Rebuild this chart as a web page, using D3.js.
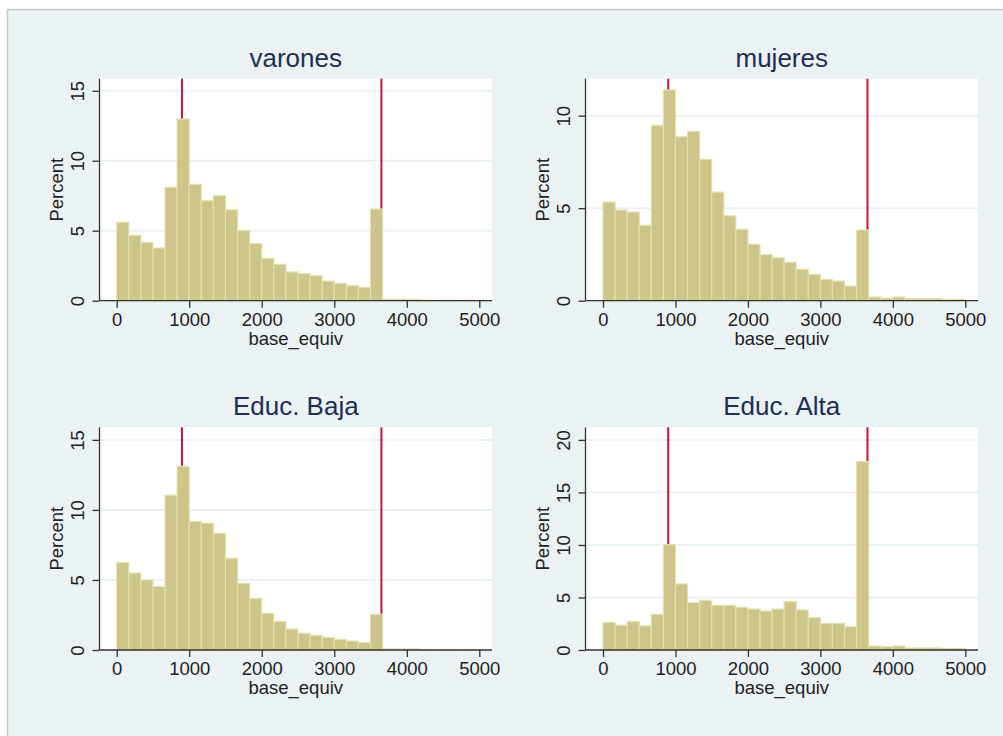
<!DOCTYPE html>
<html>
<head>
  <meta charset="utf-8">
  <title>base_equiv histograms</title>
  <script src="https://cdn.jsdelivr.net/npm/d3@7"></script>
  <style>
    body { margin: 0; background: #fff; }
    svg text { font-family: 'Liberation Sans', Arial, sans-serif; }
  </style>
</head>
<body>
<svg id="chart" width="1003" height="736"></svg>

<script>
  // percent per bin, 30 bins of equal width covering 0..5000
  var varones = [5.6, 4.67, 4.17, 3.76, 8.1, 12.98, 8.31, 7.14, 7.5, 6.5,
    5.0, 4.07, 3.02, 2.6, 2.05, 1.93, 1.79, 1.4, 1.24, 1.07,
    0.95, 6.55, 0.1, 0.1, 0.08, 0.03, 0.02, 0.02, 0.02, 0.02];
  var mujeres = [5.33, 4.9, 4.79, 4.07, 9.48, 11.39, 8.86, 9.15, 7.64, 5.87,
    4.59, 3.86, 3.05, 2.49, 2.32, 2.07, 1.69, 1.42, 1.15, 1.06,
    0.79, 3.82, 0.2, 0.13, 0.2, 0.1, 0.1, 0.1, 0.07, 0.07];
  var educBaja = [6.24, 5.5, 5.0, 4.52, 11.05, 13.12, 9.17, 9.05, 8.33, 6.55,
    4.76, 3.69, 2.62, 2.02, 1.5, 1.19, 1.05, 0.9, 0.76, 0.64,
    0.52, 2.55, 0.07, 0.07, 0.07, 0.02, 0.02, 0.02, 0.02, 0.02];
  var educAlta = [2.63, 2.35, 2.7, 2.29, 3.4, 10.03, 6.29, 4.51, 4.73, 4.25,
    4.25, 4.06, 3.9, 3.71, 3.9, 4.6, 3.81, 3.08, 2.54, 2.54,
    2.22, 17.94, 0.38, 0.32, 0.38, 0.19, 0.19, 0.19, 0.13, 0.13];

  var titles = ['varones', 'mujeres', 'Educ. Baja', 'Educ. Alta'];
  var xTicks = [0, 1000, 2000, 3000, 4000, 5000];
  var yTicksList = [[0, 5, 10, 15], [0, 5, 10], [0, 5, 10, 15], [0, 5, 10, 15, 20]];
  var yMaxList = [15.86, 12.0, 15.9, 21.2];
  var refLines = [900, 3650];
  var xMin = 0, xMax = 5000;

  var series = [varones, mujeres, educBaja, educAlta];

  var svg = d3.select('#chart');

  // graph background
  svg.append('rect')
    .attr('x', 7.5).attr('y', 9.5)
    .attr('width', 1003).attr('height', 736)
    .attr('fill', '#eaf2f3')
    .attr('stroke', '#c4c8c8')
    .attr('stroke-width', 1.5);

  // panel geometry: plot region box and where 0 / 5000 land
  var panels = [
    { left: 99.5, right: 492, top: 78.7, bottom: 300.7, x0: 116.7, x1: 479.3 },
    { left: 585.5, right: 978, top: 78.7, bottom: 300.7, x0: 603, x1: 965.3 },
    { left: 99.5, right: 492, top: 427.3, bottom: 650, x0: 116.7, x1: 479.3 },
    { left: 585.5, right: 978, top: 427.3, bottom: 650, x0: 603, x1: 965.3 }
  ];

  panels.forEach((p, i) => {
    var data = series[i];
    var nb = data.length;
    var g = svg.append('g');

    var x = d3.scaleLinear().domain([xMin, xMax]).range([p.x0, p.x1]);
    var y = d3.scaleLinear().domain([0, yMaxList[i]]).range([p.bottom, p.top]);

    // white plot region
    g.append('rect')
      .attr('x', p.left).attr('y', p.top)
      .attr('width', p.right - p.left).attr('height', p.bottom - p.top)
      .attr('fill', '#fff');

    // grid
    g.selectAll('.grid')
      .data(yTicksList[i].filter(d => d > 0))
      .enter().append('line')
      .attr('x1', p.left).attr('x2', p.right)
      .attr('y1', d => y(d)).attr('y2', d => y(d))
      .attr('stroke', '#eaf2f3')
      .attr('stroke-width', 2);

    // reference lines (behind bars)
    g.selectAll('.ref')
      .data(refLines)
      .enter().append('line')
      .attr('x1', d => x(d)).attr('x2', d => x(d))
      .attr('y1', p.top).attr('y2', p.bottom)
      .attr('stroke', '#c8143c')
      .attr('stroke-width', 2);

    // bars
    var bw = (xMax - xMin) / nb;
    g.selectAll('.bar')
      .data(data)
      .enter().append('rect')
      .attr('x', (d, j) => x(xMin + j * bw))
      .attr('width', x(xMin + bw) - x(xMin))
      .attr('y', d => y(d))
      .attr('height', d => p.bottom - y(d))
      .attr('fill', '#cdc58a')
      .attr('stroke', '#e4dfae')
      .attr('stroke-width', 1.2);

    // x axis
    var xa = g.append('g')
      .attr('transform', 'translate(0,' + p.bottom + ')')
      .call(d3.axisBottom(x).tickValues(xTicks).tickSize(7).tickSizeOuter(0).tickFormat(d3.format('d')));
    xa.select('.domain').remove();
    xa.selectAll('line').attr('stroke', '#333').attr('stroke-width', 1.3);
    xa.selectAll('text')
      .attr('y', 25).attr('dy', 0)
      .attr('fill', '#222')
      .attr('font-size', 18.5);

    // y axis
    var ya = g.append('g')
      .attr('transform', 'translate(' + p.left + ',0)')
      .call(d3.axisLeft(y).tickValues(yTicksList[i]).tickSize(7).tickSizeOuter(0));
    ya.select('.domain').remove();
    ya.selectAll('line').attr('stroke', '#333').attr('stroke-width', 1.3);
    ya.selectAll('text')
      .attr('x', 0).attr('dy', 0)
      .attr('text-anchor', 'middle')
      .attr('transform', 'translate(-16,0) rotate(-90)')
      .attr('fill', '#222')
      .attr('font-size', 18.5);

    // axis lines
    g.append('line')
      .attr('x1', p.left).attr('x2', p.left)
      .attr('y1', p.top).attr('y2', p.bottom)
      .attr('stroke', '#333').attr('stroke-width', 1.3);
    g.append('line')
      .attr('x1', p.left).attr('x2', p.right)
      .attr('y1', p.bottom).attr('y2', p.bottom)
      .attr('stroke', '#333').attr('stroke-width', 1.3);

    // axis titles
    var cx = (p.left + p.right) / 2;
    g.append('text')
      .attr('x', cx).attr('y', p.bottom + 44)
      .attr('text-anchor', 'middle')
      .attr('font-size', 18.5)
      .attr('fill', '#222')
      .text('base_equiv');

    g.append('text')
      .attr('transform', 'translate(' + (p.left - 37) + ',' + (p.top + p.bottom) / 2 + ') rotate(-90)')
      .attr('text-anchor', 'middle')
      .attr('font-size', 18.5)
      .attr('fill', '#222')
      .text('Percent');

    // panel title
    g.append('text')
      .attr('x', cx).attr('y', p.top - 12)
      .attr('text-anchor', 'middle')
      .attr('font-size', 26)
      .attr('fill', '#1e2e55')
      .text(titles[i]);
  });
</script>
</body>
</html>
